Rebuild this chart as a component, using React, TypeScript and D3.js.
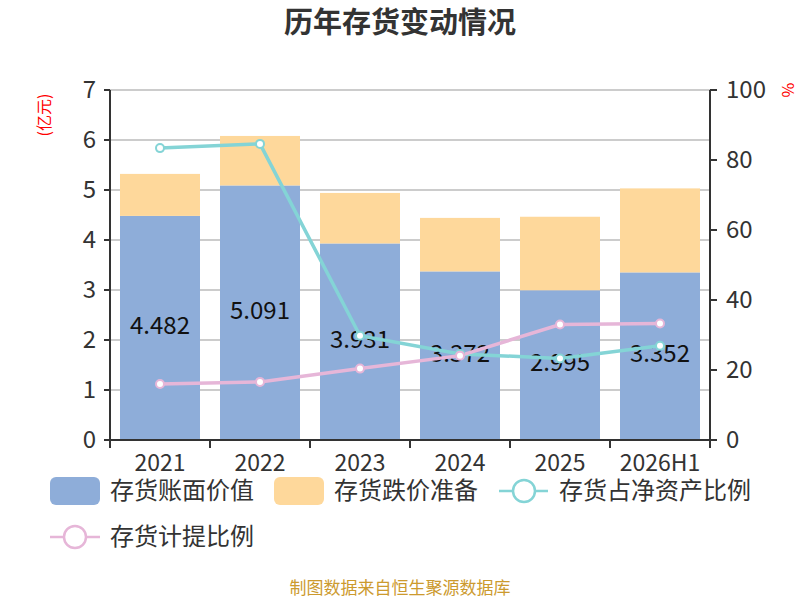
import React from "react";
import * as d3 from "d3";

const categories = ["2021", "2022", "2023", "2024", "2025", "2026H1"];
const bookValue = [4.482, 5.091, 3.931, 3.372, 2.995, 3.352];
const reserve = [0.84, 0.99, 1.01, 1.07, 1.47, 1.68];
const shareOfNetAssets = [83.4, 84.6, 29.8, 24.6, 23.3, 26.9];
const provisionRatio = [16.0, 16.6, 20.4, 24.1, 33.0, 33.3];
const leftTicks = [0, 1, 2, 3, 4, 5, 6, 7];
const rightTicks = [0, 20, 40, 60, 80, 100];

const FONT = "'Noto Sans CJK SC', 'Noto Sans', sans-serif";
const BLUE = "#8eadd9";
const ORANGE = "#fed89b";
const TEAL = "#84d4d6";
const PINK = "#e6b6d8";
const AXIS = "#333333";

export default function App() {
  const W = 800, H = 600;
  const left = 110, right = 710, top = 90, bottom = 440;
  const x = d3.scaleBand<string>().domain(categories).range([left, right]).paddingInner(0.2).paddingOuter(0.1);
  const yL = d3.scaleLinear().domain([0, 7]).range([bottom, top]);
  const yR = d3.scaleLinear().domain([0, 100]).range([bottom, top]);
  const cx = (c: string) => (x(c) as number) + x.bandwidth() / 2;
  const line = d3.line<number>().x((_, i) => cx(categories[i])).y((d) => yR(d));
  const step = x.step();
  const boundaries = d3.range(categories.length + 1).map((i) => left + i * step);

  return (
    <svg width={W} height={H} style={{ position: "absolute", left: 0, top: 0, fontFamily: FONT }}>
      <rect width={W} height={H} fill="#fff" />
      <text x={400} y={33} textAnchor="middle" fontSize={29} fontWeight="bold" fill="#333">历年存货变动情况</text>

      {leftTicks.map((t) => (
        <line key={"g" + t} x1={left} x2={right} y1={yL(t)} y2={yL(t)} stroke="#cccccc" strokeWidth={2} />
      ))}

      {categories.map((c, i) => (
        <g key={"b" + c}>
          <rect x={x(c)} width={x.bandwidth()} y={yL(bookValue[i])} height={yL(0) - yL(bookValue[i])} fill={BLUE} />
          <rect x={x(c)} width={x.bandwidth()} y={yL(bookValue[i] + reserve[i])} height={yL(bookValue[i]) - yL(bookValue[i] + reserve[i])} fill={ORANGE} />
        </g>
      ))}

      {categories.map((c, i) => (
        <text key={"l" + c} x={cx(c)} y={(yL(bookValue[i]) + yL(0)) / 2 + 6} textAnchor="middle" fontSize={24} fill="#111">
          {bookValue[i].toFixed(3)}
        </text>
      ))}

      <path d={line(shareOfNetAssets) as string} fill="none" stroke={TEAL} strokeWidth={3.5} />
      <path d={line(provisionRatio) as string} fill="none" stroke={PINK} strokeWidth={3.5} />
      {shareOfNetAssets.map((v, i) => (
        <circle key={"tc" + i} cx={cx(categories[i])} cy={yR(v)} r={4} fill="#fff" stroke={TEAL} strokeWidth={2} />
      ))}
      {provisionRatio.map((v, i) => (
        <circle key={"pc" + i} cx={cx(categories[i])} cy={yR(v)} r={4} fill="#fff" stroke={PINK} strokeWidth={2} />
      ))}

      {/* left axis */}
      <line x1={left} x2={left} y1={top} y2={bottom + 6} stroke={AXIS} strokeWidth={2} />
      {leftTicks.map((t) => (
        <g key={"lt" + t}>
          <line x1={left - 6} x2={left} y1={yL(t)} y2={yL(t)} stroke={AXIS} strokeWidth={2} />
          <text x={left - 14} y={yL(t) + 8} textAnchor="end" fontSize={24} fill="#333">{t}</text>
        </g>
      ))}
      {/* right axis */}
      <line x1={right} x2={right} y1={top} y2={bottom + 6} stroke={AXIS} strokeWidth={2} />
      {rightTicks.map((t) => (
        <g key={"rt" + t}>
          <line x1={right} x2={right + 7} y1={yR(t)} y2={yR(t)} stroke={AXIS} strokeWidth={2} />
          <text x={right + 16} y={yR(t) + 8} textAnchor="start" fontSize={24} fill="#333">{t}</text>
        </g>
      ))}
      {/* x axis */}
      <line x1={left} x2={right} y1={bottom} y2={bottom} stroke={AXIS} strokeWidth={2} />
      {boundaries.map((b, i) => (
        <line key={"xt" + i} x1={b} x2={b} y1={bottom} y2={bottom + 8} stroke={AXIS} strokeWidth={2} />
      ))}
      {categories.map((c) => (
        <text key={"xl" + c} x={cx(c)} y={471} textAnchor="middle" fontSize={23} fill="#333">{c}</text>
      ))}

      <text transform="translate(50,115) rotate(-90)" textAnchor="middle" fontSize={16} fill="#ff0000">(亿元)</text>
      <text transform="translate(782,90) rotate(90)" textAnchor="middle" fontSize={16} fill="#ff0000">%</text>

      {/* legend */}
      <rect x={50} y={477} width={50} height={28} rx={6} fill={BLUE} />
      <text x={110} y={499} fontSize={24} fill="#333">存货账面价值</text>
      <rect x={274} y={477} width={50} height={28} rx={6} fill={ORANGE} />
      <text x={334} y={499} fontSize={24} fill="#333">存货跌价准备</text>
      <line x1={499} x2={548} y1={491} y2={491} stroke={TEAL} strokeWidth={2.5} />
      <circle cx={524} cy={491} r={11} fill="#fff" stroke={TEAL} strokeWidth={2.5} />
      <text x={559} y={499} fontSize={24} fill="#333">存货占净资产比例</text>
      <line x1={50} x2={100} y1={537} y2={537} stroke={PINK} strokeWidth={2.5} />
      <circle cx={75} cy={537} r={11} fill="#fff" stroke={PINK} strokeWidth={2.5} />
      <text x={110} y={545} fontSize={24} fill="#333">存货计提比例</text>

      <text x={400} y={594} textAnchor="middle" fontSize={17} fill="#cc9a2e">制图数据来自恒生聚源数据库</text>
    </svg>
  );
}
